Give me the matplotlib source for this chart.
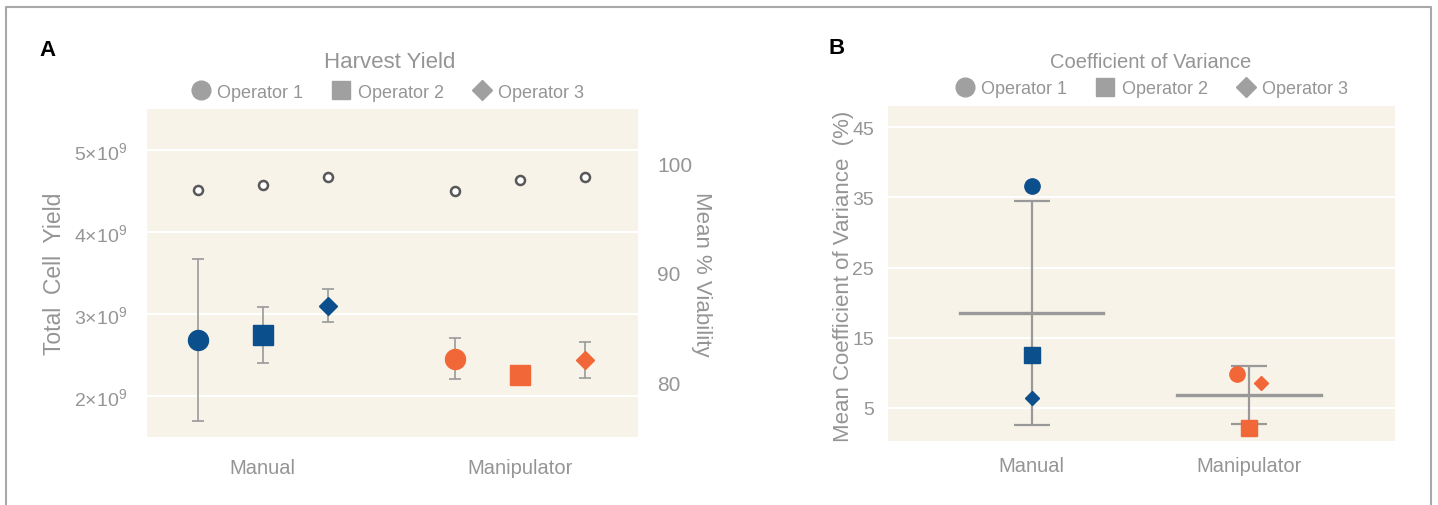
import numpy as np
import matplotlib.pyplot as plt
from matplotlib.lines import Line2D
from matplotlib.ticker import FuncFormatter

plt.rcParams['font.family'] = ['Liberation Sans', 'DejaVu Sans']
plt.rcParams['mathtext.default'] = 'regular'

# Daten Panel A (Harvest Yield)
groups = ['Manual', 'Manipulator']
operators = ['Operator 1', 'Operator 2', 'Operator 3']
yield_manual = [2.68e9, 2.74e9, 3.10e9]
yield_manual_err = [0.99e9, 0.34e9, 0.20e9]
yield_manip = [2.45e9, 2.25e9, 2.44e9]
yield_manip_err = [0.25e9, 0.0, 0.22e9]
viab_manual = [97.6, 98.0, 98.75]
viab_manip = [97.5, 98.5, 98.8]

# Daten Panel B (Coefficient of Variance)
cv_manual = [36.6, 12.5, 6.4]
cv_manip = [9.8, 2.2, 8.6]

W, H = 1438, 506
grey = '#999999'
txt = '#959595'
beige = '#f8f3e8'
blue = '#0b4f8c'
orange = '#f26738'
markers = ['o', 's', 'D']
msize = [14.4, 13.7, 8.8]
msize_b = [11, 11, 6.8]

fig = plt.figure(figsize=(W / 100, H / 100), dpi=100)

# Rahmen um die Abbildung
fig.add_artist(Line2D([5.5 / W, 5.5 / W, 1430.5 / W, 1430.5 / W],
                      [0, 1 - 8 / H, 1 - 8 / H, 0],
                      transform=fig.transFigure, color='#a8a8a8', lw=1.5))


def style_axis(ax):
    ax.set_facecolor(beige)
    for s in ax.spines.values():
        s.set_visible(False)
    ax.tick_params(length=0, colors=txt)
    ax.yaxis.grid(True, color='white', lw=1.5)
    ax.set_axisbelow(True)


# ---------------- Panel A ----------------
axA = fig.add_axes([147 / W, 1 - 437.7 / H, 491 / W, 327.7 / H])
style_axis(axA)
axA.set_xlim(-0.45, 1.46)
axA.set_ylim(1.5e9, 5.5e9)
axA.set_yticks([2e9, 3e9, 4e9, 5e9])
axA.yaxis.set_major_formatter(FuncFormatter(lambda v, p: '%d×10$^{9}$' % round(v / 1e9)))
axA.tick_params(axis='y', labelsize=14, pad=14)
axA.set_xticks([0, 1])
axA.set_xticklabels(groups)
axA.tick_params(axis='x', labelsize=14.5, pad=15)
axA.set_ylabel('Total  Cell  Yield', fontsize=16.5, color=txt)
axA.yaxis.set_label_coords(-0.164, 0.5)

offsA = [-0.253, 0, 0.253]
for g, (vals, errs, col) in enumerate([(yield_manual, yield_manual_err, blue),
                                       (yield_manip, yield_manip_err, orange)]):
    for i in range(3):
        x = g + offsA[i]
        if errs[i] > 0:
            axA.errorbar(x, vals[i], yerr=errs[i], fmt='none', ecolor=grey,
                         elinewidth=1.2, capsize=4, capthick=1.2, zorder=2)
        axA.plot(x, vals[i], marker=markers[i], ms=msize[i], color=col,
                 mec=col, ls='none', zorder=3)

axR = axA.twinx()
for s in axR.spines.values():
    s.set_visible(False)
axR.set_ylim(75, 105)
axR.set_yticks([80, 90, 100])
axR.tick_params(length=0, colors=txt, labelsize=15, pad=14)
axR.set_ylabel('Mean % Viability', fontsize=16, color=txt, rotation=270)
axR.yaxis.set_label_coords(1.151, 0.5)
for g, vals in enumerate([viab_manual, viab_manip]):
    axR.plot(np.array(offsA) + g, vals, 'o', ms=6.5, mfc='white', mec='#585858',
             mew=1.8, ls='none')

fig.text(390 / W, 1 - 62 / H, 'Harvest Yield', ha='center', va='center',
         fontsize=16, color=txt)
fig.text(48 / W, 1 - 50 / H, 'A', ha='center', va='center', fontsize=16,
         fontweight='bold', color='black')

handles = [Line2D([], [], marker=m, ls='none', color='#a0a0a0', ms=s)
           for m, s in zip(markers, [13.5, 12.5, 10])]
axA.legend(handles, operators, loc='center', bbox_to_anchor=(388 / W, 1 - 93 / H),
           bbox_transform=fig.transFigure, ncol=3, frameon=False, fontsize=13,
           handlelength=1, handletextpad=0.4, columnspacing=1.6, labelcolor=txt)

# ---------------- Panel B ----------------
axB = fig.add_axes([888 / W, 1 - 442 / H, 507 / W, 335 / H])
style_axis(axB)
axB.set_xlim(-0.66, 1.67)
axB.set_ylim(0.3, 48)
axB.set_yticks([5, 15, 25, 35, 45])
axB.tick_params(axis='y', labelsize=14, pad=10)
axB.set_xticks([0, 1])
axB.set_xticklabels(groups)
axB.tick_params(axis='x', labelsize=14.5, pad=11)
axB.set_ylabel('Mean Coefficient of Variance  (%)', fontsize=16, color=txt)
axB.yaxis.set_label_coords(-0.068, 0.495)

offsB = [[0, 0, 0], [-0.055, 0, 0.055]]
for g, (vals, col) in enumerate([(cv_manual, blue), (cv_manip, orange)]):
    mean = np.mean(vals)
    sd = np.std(vals, ddof=1)
    axB.errorbar(g, mean, yerr=sd, fmt='none', ecolor=grey, elinewidth=1.6,
                 capsize=13, capthick=1.6, zorder=2)
    axB.plot([g - 0.33, g + 0.33], [mean, mean], color=grey, lw=2.4, zorder=2)
    for i in range(3):
        axB.plot(g + offsB[g][i], vals[i], marker=markers[i], ms=msize_b[i],
                 color=col, mec=col, ls='none', zorder=3)

fig.text(1151 / W, 1 - 62 / H, 'Coefficient of Variance', ha='center', va='center',
         fontsize=14.5, color=txt)
fig.text(837 / W, 1 - 48 / H, 'B', ha='center', va='center', fontsize=16,
         fontweight='bold', color='black')
axB.legend(handles, operators, loc='center', bbox_to_anchor=(1152 / W, 1 - 90 / H),
           bbox_transform=fig.transFigure, ncol=3, frameon=False, fontsize=13,
           handlelength=1, handletextpad=0.4, columnspacing=1.6, labelcolor=txt)

fig.savefig('out.png', dpi=100)
